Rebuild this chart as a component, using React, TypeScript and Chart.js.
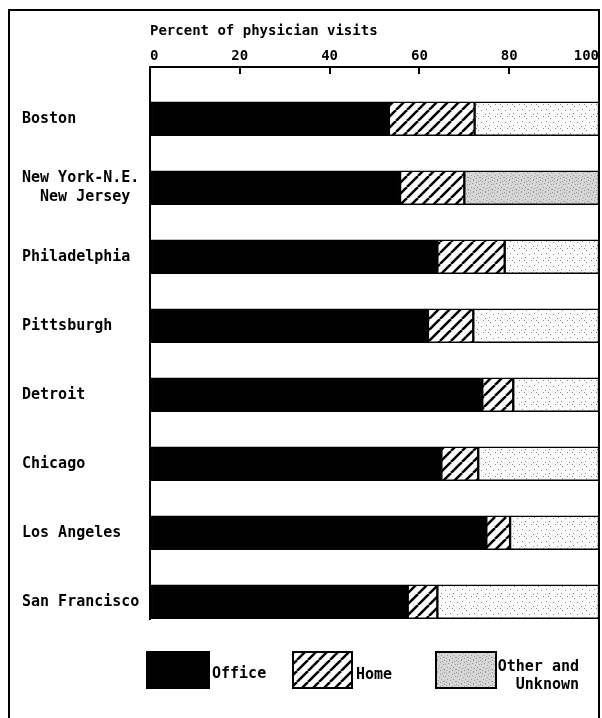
import React, { useEffect, useRef } from "react";
import { Chart, registerables } from "chart.js";

Chart.register(...registerables);

// ---- data ----
const cities: (string | string[])[] = [
  "Boston",
  ["New York-N.E.", "  New Jersey"],
  "Philadelphia",
  "Pittsburgh",
  "Detroit",
  "Chicago",
  "Los Angeles",
  "San Francisco",
];
const officePct = [53.2, 55.7, 64.0, 61.9, 74.0, 64.9, 74.9, 57.4];
const homePct = [19.1, 14.3, 15.0, 10.1, 6.9, 8.2, 5.3, 6.6];
const otherPct = [27.7, 30.0, 21.0, 28.0, 19.1, 26.9, 19.8, 36.0];
const xTicks = [0, 20, 40, 60, 80, 100];
const axisTitle = "Percent of physician visits";
const seriesNames: (string | string[])[] = ["Office", "Home", ["Other and", "Unknown"]];

const FONT_FAMILY = '"DejaVu Sans Mono", monospace';
const font = { family: FONT_FAMILY, size: 14, weight: "bold" as const, lineHeight: 1.4 };
const labelFont = { family: FONT_FAMILY, size: 15, weight: "bold" as const, lineHeight: 1.3 };

function makeHatch(): CanvasPattern {
  const s = 11;
  const c = document.createElement("canvas");
  c.width = s;
  c.height = s;
  const g = c.getContext("2d")!;
  g.fillStyle = "#fff";
  g.fillRect(0, 0, s, s);
  g.strokeStyle = "#000";
  g.lineWidth = 2.5;
  g.beginPath();
  for (const o of [-s, 0, s]) {
    g.moveTo(o, s);
    g.lineTo(o + s, 0);
  }
  g.stroke();
  return g.createPattern(c, "repeat")!;
}

function makeStipple(dense: boolean): CanvasPattern {
  const s = 12;
  const c = document.createElement("canvas");
  c.width = s;
  c.height = s;
  const g = c.getContext("2d")!;
  g.fillStyle = dense ? "#d6d6d6" : "#fbfbfb";
  g.fillRect(0, 0, s, s);
  const dots = dense
    ? [[0, 0], [2, 1], [5, 0], [8, 2], [10, 1], [1, 4], [4, 3], [7, 5], [11, 4], [3, 7], [6, 8], [9, 7], [0, 9], [2, 10], [5, 11], [8, 10], [11, 9]]
    : [[1, 2], [6, 1], [9, 5], [3, 8], [10, 10], [5, 6], [8, 8]];
  g.fillStyle = dense ? "#9a9a9a" : "#8a8a8a";
  for (const [x, y] of dots) g.fillRect(x, y, 1, 1);
  return g.createPattern(c, "repeat")!;
}

export default function App() {
  const ref = useRef<HTMLCanvasElement>(null);

  useEffect(() => {
    const canvas = ref.current!;
    const hatch = makeHatch();
    const sparse = makeStipple(false);
    const dense = makeStipple(true);
    const otherFills = otherPct.map((_, i) => (i === 1 ? dense : sparse));

    const framePlugin = {
      id: "frame",
      beforeDraw(chart: any) {
        const c = chart.ctx;
        c.save();
        c.fillStyle = "#fff";
        c.fillRect(0, 0, chart.width, chart.height);
        c.restore();
      },
      afterDraw(chart: any) {
        const c = chart.ctx;
        const a = chart.chartArea;
        c.save();
        c.strokeStyle = "#000";
        c.lineWidth = 2;
        c.beginPath();
        c.moveTo(9, chart.height);
        c.lineTo(9, 10);
        c.lineTo(a.right, 10);
        c.lineTo(a.right, chart.height);
        c.stroke();
        c.restore();
      },
    };

    const legendPlugin = {
      id: "customLegend",
      afterDraw(chart: any) {
        const c = chart.ctx;
        const fills = [chart.data.datasets[0].backgroundColor, hatch, dense];
        const boxes = [
          { x: 147, w: 62 },
          { x: 293, w: 59 },
          { x: 436, w: 60 },
        ];
        const top = 652;
        const h = 36;
        c.save();
        c.font = `bold 15px ${FONT_FAMILY}`;
        boxes.forEach((b, i) => {
          c.fillStyle = fills[i];
          c.fillRect(b.x, top, b.w, h);
          c.strokeStyle = "#000";
          c.lineWidth = 2;
          c.strokeRect(b.x, top, b.w, h);
        });
        c.fillStyle = "#000";
        c.textBaseline = "middle";
        c.textAlign = "left";
        c.fillText(seriesNames[0] as string, 212, 674);
        c.fillText(seriesNames[1] as string, 356, 675);
        c.textAlign = "right";
        const other = seriesNames[2] as string[];
        c.fillText(other[0], 579, 667);
        c.fillText(other[1], 579, 685);
        c.restore();
      },
    };

    const mk = (arr: number[]) => arr.map((v, i) => ({ x: v, y: i }));
    const common = { borderColor: "#000", borderWidth: 1.5, borderSkipped: false, barThickness: 34 };

    const chart = new Chart(canvas, {
      type: "bar",
      data: {
        datasets: [
          { label: seriesNames[0] as string, data: mk(officePct), backgroundColor: "#000", ...common },
          { label: seriesNames[1] as string, data: mk(homePct), backgroundColor: hatch, ...common },
          { label: (seriesNames[2] as string[]).join(" "), data: mk(otherPct), backgroundColor: otherFills, ...common },
        ] as any,
      },
      options: {
        indexAxis: "y",
        responsive: false,
        animation: false,
        layout: { padding: { left: 22, top: 0, right: 3, bottom: 99 }, autoPadding: false } as any,
        plugins: { legend: { display: false }, tooltip: { enabled: false } },
        scales: {
          x: {
            type: "linear",
            position: "top",
            stacked: true,
            min: 0,
            max: 100,
            afterBuildTicks: (s: any) => {
              s.ticks = xTicks.map((v) => ({ value: v }));
            },
            ticks: { align: "inner", padding: 8, color: "#000", font, maxRotation: 0, autoSkip: false },
            grid: { display: true, drawOnChartArea: false, drawTicks: true, tickLength: -7, color: "#000", lineWidth: 2 },
            border: { display: true, color: "#000", width: 2 },
            title: {
              display: true,
              text: axisTitle,
              align: "start",
              color: "#000",
              font,
              padding: { top: 22, bottom: 0 },
            },
            afterFit: (s: any) => {
              s.height = 67;
              s.paddingLeft = 0;
              s.paddingRight = 0;
            },
          },
          y: {
            type: "linear",
            reverse: true,
            stacked: true,
            offset: false,
            min: -0.75,
            max: 7.25,
            afterBuildTicks: (s: any) => {
              s.ticks = cities.map((_, i) => ({ value: i }));
            },
            ticks: {
              crossAlign: "far",
              color: "#000",
              font: labelFont,
              autoSkip: false,
              callback: (v: any) => cities[Math.round(Number(v))] as any,
            },
            grid: { display: false, offset: false },
            border: { display: true, color: "#000", width: 2 },
            afterFit: (s: any) => {
              s.width = 128;
              s.paddingTop = 0;
              s.paddingBottom = 0;
            },
          },
        } as any,
      },
      plugins: [framePlugin, legendPlugin],
    });
    return () => chart.destroy();
  }, []);

  return (
    <div style={{ position: "absolute", left: 0, top: 0, width: 602, height: 718, background: "#fff" }}>
      <canvas ref={ref} width={602} height={718} style={{ display: "block", width: 602, height: 718 }} />
    </div>
  );
}
